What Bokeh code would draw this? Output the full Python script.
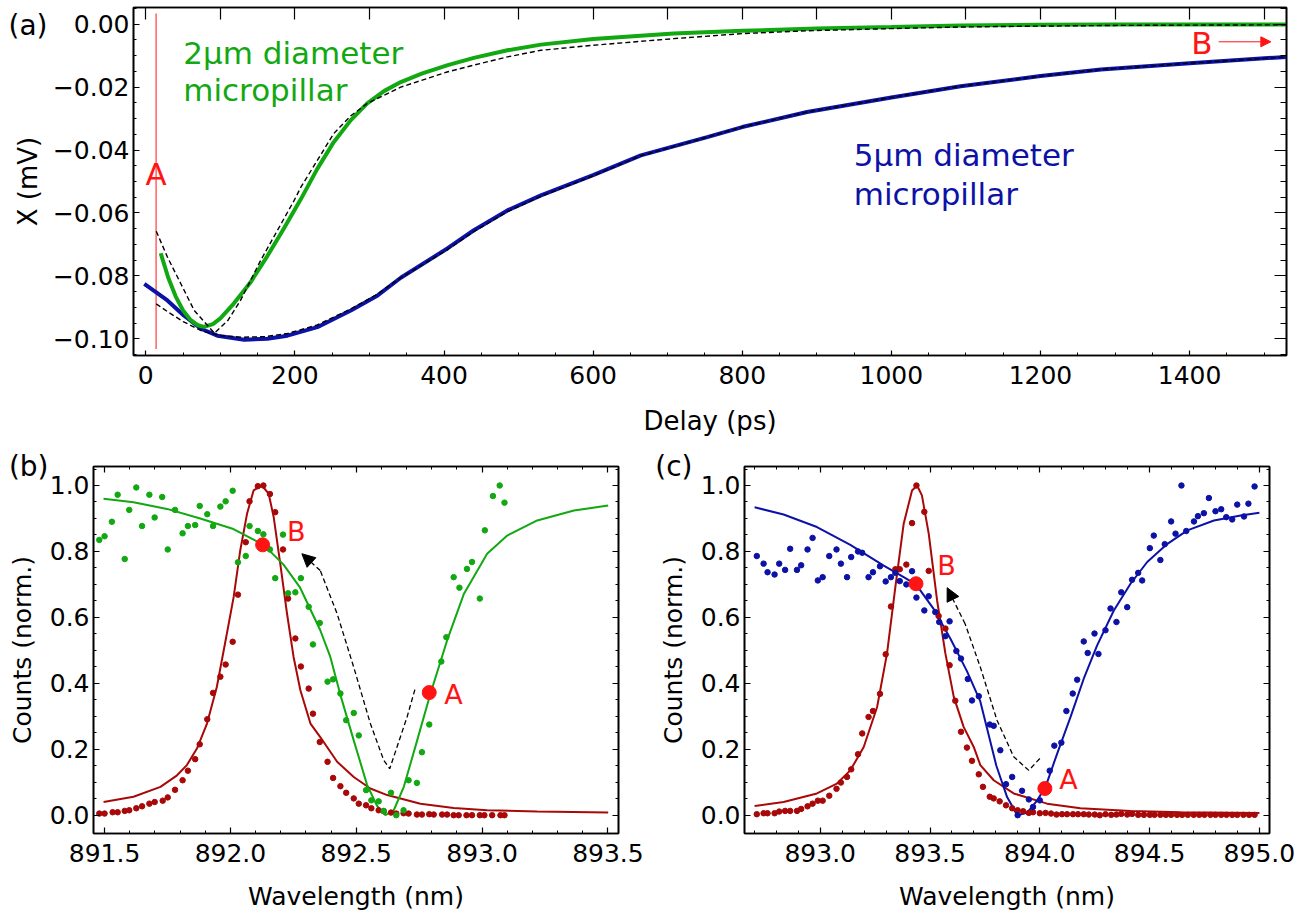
from bokeh.plotting import figure
from bokeh.models import (Range1d, LinearAxis, FixedTicker, CustomJSTickFormatter,
                          Label, Arrow, NormalHead)
from bokeh.layouts import column, row
from bokeh.embed import file_html
from bokeh.resources import INLINE

FONT = "DejaVu Sans"
GREEN = "#12a812"
BLUE = "#0c12a6"
DARKRED = "#a80808"
RED = "#ff1414"

# ---------------- Panel (a): pump-probe traces ----------------
DELAY_TICKS = [0, 200, 400, 600, 800, 1000, 1200, 1400]
DELAY_MINOR = list(range(0, 1551, 50))
DELAY_TOP = list(range(0, 1551, 100))
X_TICKS = [-0.10, -0.08, -0.06, -0.04, -0.02, 0.0]
X_MINOR = [round(-0.105 + 0.005 * i, 3) for i in range(23)]

G_T = [20, 30, 40, 50, 60, 70, 78, 90, 100, 118, 140, 163, 185, 208, 230, 252, 275, 297,
       320, 342, 370, 405, 440, 485, 530, 600, 708, 800, 900, 1000, 1093, 1200, 1300, 1400, 1530]
G_X = [-0.0728, -0.0805, -0.0865, -0.0910, -0.0940, -0.0957, -0.0962, -0.0953, -0.0935,
       -0.0888, -0.0822, -0.0737, -0.0650, -0.0556, -0.0460, -0.0375, -0.0305, -0.0252,
       -0.0212, -0.0184, -0.0157, -0.0130, -0.0107, -0.0083, -0.0065, -0.0047, -0.0030,
       -0.0021, -0.0014, -0.0009, -0.0004, -0.0002, -0.0001, -0.0001, -0.0001]
G_FIT_T = [14, 29, 47, 65, 92, 110, 127, 154, 199, 208, 252, 275, 297, 342, 404, 440, 485,
           530, 600, 708, 800, 887, 1000, 1093, 1200, 1300, 1400, 1530]
G_FIT_X = [-0.0658, -0.0740, -0.0825, -0.0910, -0.0982, -0.0942, -0.0878, -0.0751, -0.0560,
           -0.0518, -0.0348, -0.0291, -0.0252, -0.0200, -0.0152, -0.0130, -0.0104, -0.0083,
           -0.0067, -0.0046, -0.0030, -0.0021, -0.0014, -0.0009, -0.0006, -0.0004, -0.0003,
           -0.0002]
B_T = [-2, 29, 51, 74, 96, 132, 163, 190, 230, 275, 311, 342, 405, 440, 485, 530, 600, 664,
       753, 800, 887, 1000, 1093, 1200, 1281, 1400, 1530]
B_X = [-0.0825, -0.0878, -0.0926, -0.0968, -0.0990, -0.1003, -0.1000, -0.0990, -0.0963,
       -0.0910, -0.0862, -0.0806, -0.0712, -0.0655, -0.0592, -0.0544, -0.0480, -0.0417,
       -0.0359, -0.0327, -0.0279, -0.0233, -0.0197, -0.0165, -0.0144, -0.0124, -0.0104]
B_FIT_T = [14, 30, 50, 75, 100, 130, 160, 190, 230, 275, 310, 342, 405, 440, 485, 530, 600,
           664, 753, 800, 887, 1000, 1093, 1200, 1281, 1400, 1530]
B_FIT_X = [-0.0889, -0.0915, -0.0945, -0.0975, -0.0990, -0.0995, -0.0993, -0.0983, -0.0956,
           -0.0905, -0.0859, -0.0806, -0.0716, -0.0659, -0.0596, -0.0547, -0.0482, -0.0418,
           -0.0359, -0.0327, -0.0279, -0.0233, -0.0197, -0.0165, -0.0144, -0.0124, -0.0104]
A_DELAY = 13.8

# ---------------- Panel (b): 2 um micropillar spectra ----------------
WL_TICKS_B = [891.5, 892.0, 892.5, 893.0, 893.5]
WL_MINOR_B = [round(891.5 + 0.1 * i, 1) for i in range(21)]
CT_TICKS = [0.0, 0.2, 0.4, 0.6, 0.8, 1.0]
CT_MINOR = [round(0.05 * i, 2) for i in range(22)]

BR_WL = [891.479, 891.500, 891.532, 891.552, 891.580, 891.598, 891.626, 891.649, 891.678,
         891.699, 891.731, 891.751, 891.780, 891.810, 891.831, 891.860, 891.878, 891.908,
         891.931, 891.960, 891.981, 892.009, 892.030, 892.061, 892.076, 892.109, 892.131,
         892.157, 892.178, 892.209, 892.229, 892.258, 892.280, 892.311, 892.328, 892.355,
         892.386, 892.408, 892.437, 892.460, 892.490, 892.510, 892.539, 892.560, 892.589,
         892.609, 892.638, 892.659, 892.688, 892.708, 892.741, 892.761, 892.790, 892.808,
         892.841, 892.861, 892.887, 892.907, 892.938, 892.960, 892.991, 893.009, 893.040,
         893.073, 893.089]
BR_CT = [0.005, 0.005, 0.009, 0.009, 0.013, 0.015, 0.021, 0.027, 0.035, 0.040, 0.044, 0.054,
         0.077, 0.106, 0.135, 0.170, 0.215, 0.291, 0.371, 0.420, 0.457, 0.526, 0.669, 0.828,
         0.952, 0.998, 1.000, 0.974, 0.919, 0.806, 0.657, 0.536, 0.451, 0.384, 0.308, 0.222,
         0.162, 0.113, 0.088, 0.068, 0.051, 0.035, 0.030, 0.021, 0.015, 0.012, 0.008, 0.005,
         0.006, 0.005, 0.002, 0.002, 0.003, 0.002, 0.002, 0.002, 0.000, 0.000, 0.000, 0.000,
         0.000, 0.000, 0.000, 0.000, 0.000]
BG_WL = [891.479, 891.500, 891.529, 891.552, 891.580, 891.598, 891.626, 891.649, 891.678,
         891.699, 891.729, 891.751, 891.780, 891.810, 891.831, 891.860, 891.878, 891.908,
         891.931, 891.960, 891.981, 892.009, 892.030, 892.061, 892.076, 892.109, 892.131,
         892.157, 892.178, 892.209, 892.229, 892.258, 892.280, 892.311, 892.328, 892.355,
         892.386, 892.408, 892.437, 892.460, 892.490, 892.510, 892.539, 892.560, 892.589,
         892.609, 892.638, 892.659, 892.688, 892.708, 892.741, 892.761, 892.790, 892.838,
         892.858, 892.887, 892.910, 892.940, 892.960, 892.991, 893.011, 893.043, 893.070,
         893.089]
BG_CT = [0.835, 0.846, 0.890, 0.972, 0.777, 0.926, 0.994, 0.877, 0.972, 0.903, 0.965, 0.806,
         0.926, 0.855, 0.877, 0.880, 0.938, 0.913, 0.877, 0.936, 0.952, 0.984, 0.767, 0.786,
         0.877, 0.862, 0.852, 0.806, 0.719, 0.851, 0.673, 0.676, 0.719, 0.632, 0.518, 0.583,
         0.405, 0.412, 0.369, 0.288, 0.310, 0.242, 0.076, 0.045, 0.042, 0.013, 0.068, 0.000,
         0.015, 0.106, 0.098, 0.191, 0.275, 0.466, 0.540, 0.722, 0.690, 0.747, 0.768, 0.657,
         0.864, 0.968, 1.000, 0.948]
BR_FIT_WL = [891.496, 891.615, 891.722, 891.788, 891.827, 891.867, 891.907, 891.946, 891.986,
             892.013, 892.039, 892.066, 892.092, 892.125, 892.152, 892.172, 892.198, 892.225,
             892.251, 892.278, 892.318, 892.357, 892.424, 892.490, 892.556, 892.623, 892.755,
             892.887, 893.020, 893.219, 893.501]
BR_FIT_CT = [0.040, 0.056, 0.086, 0.121, 0.152, 0.202, 0.278, 0.389, 0.551, 0.662, 0.803,
             0.914, 0.985, 1.000, 0.975, 0.904, 0.763, 0.611, 0.480, 0.379, 0.278, 0.237,
             0.162, 0.116, 0.081, 0.061, 0.035, 0.022, 0.015, 0.011, 0.008]
BG_FIT_WL = [891.496, 891.615, 891.748, 891.880, 892.012, 892.132, 892.211, 892.277, 892.357,
             892.397, 892.437, 892.490, 892.543, 892.583, 892.616, 892.649, 892.689, 892.742,
             892.795, 892.861, 892.928, 893.020, 893.100, 893.219, 893.365, 893.501]
BG_FIT_CT = [0.960, 0.949, 0.929, 0.900, 0.868, 0.820, 0.760, 0.690, 0.561, 0.480, 0.365,
             0.227, 0.092, 0.028, 0.000, 0.015, 0.086, 0.227, 0.369, 0.530, 0.672, 0.793,
             0.848, 0.894, 0.924, 0.939]
B_PATH_WL = [892.733, 892.702, 892.662, 892.633, 892.609, 892.556, 892.490, 892.424, 892.357]
B_PATH_CT = [0.381, 0.298, 0.207, 0.141, 0.167, 0.278, 0.449, 0.611, 0.742]
B_TIP = (892.284, 0.793)
B_PT_B = (892.128, 0.820)
B_PT_A = (892.790, 0.372)

# ---------------- Panel (c): 5 um micropillar spectra ----------------
WL_TICKS_C = [893.0, 893.5, 894.0, 894.5, 895.0]
WL_MINOR_C = [round(892.7 + 0.1 * i, 1) for i in range(24)]

CR_WL = [892.711, 892.742, 892.760, 892.792, 892.813, 892.840, 892.863, 892.894, 892.913,
         892.942, 892.965, 892.989, 893.011, 893.041, 893.074, 893.094, 893.122, 893.141,
         893.172, 893.191, 893.220, 893.240, 893.272, 893.298, 893.322, 893.342, 893.362,
         893.392, 893.418, 893.438, 893.474, 893.494, 893.539, 893.570, 893.589, 893.615,
         893.641, 893.668, 893.691, 893.722,
         893.741, 893.772, 893.790, 893.817, 893.846, 893.874, 893.899, 893.924, 893.950,
         893.969, 894.000, 894.026, 894.051, 894.076, 894.101, 894.124, 894.151, 894.174,
         894.200, 894.223, 894.250, 894.273, 894.299, 894.325, 894.349, 894.371, 894.398,
         894.420, 894.448, 894.474, 894.501, 894.522, 894.549, 894.574, 894.598, 894.625,
         894.648, 894.674, 894.701, 894.726, 894.750, 894.777, 894.800, 894.826, 894.850,
         894.876, 894.899, 894.927, 894.953, 894.978]
CR_CT = [0.003, 0.006, 0.006, 0.006, 0.011, 0.013, 0.013, 0.013, 0.019, 0.027, 0.035, 0.044,
         0.044, 0.059, 0.080, 0.099, 0.116, 0.139, 0.185, 0.248, 0.298, 0.316, 0.368, 0.488,
         0.633, 0.746, 0.746, 0.760, 0.886, 1.000, 0.920, 0.741, 0.604, 0.566, 0.455, 0.347,
         0.253, 0.205, 0.165, 0.124,
         0.086, 0.056, 0.051, 0.042, 0.030, 0.021, 0.015, 0.012, 0.007, 0.009, 0.006, 0.007,
         0.005, 0.002, 0.003, 0.003, 0.003, 0.003, 0.003, 0.002, 0.002, 0.000, 0.003, 0.001,
         0.002, 0.004, 0.002, 0.004, 0.001, 0.001, 0.001, 0.001, 0.001, 0.001, 0.001, 0.001,
         0.001, 0.001, 0.001, 0.001, 0.001, 0.001, 0.001, 0.001, 0.001, 0.001, 0.001, 0.001,
         0.001, 0.001]
CB_WL = [892.711, 892.742, 892.760, 892.792, 892.813, 892.840, 892.863, 892.894, 892.913,
         892.942, 892.965, 892.989, 893.011, 893.041, 893.074, 893.094, 893.122, 893.141,
         893.172, 893.191, 893.220, 893.240, 893.272, 893.298, 893.322, 893.342, 893.362,
         893.392, 893.418, 893.438, 893.474, 893.494, 893.524, 893.542, 893.570, 893.589,
         893.620, 893.641, 893.672, 893.691, 893.722,
         893.772, 893.790, 893.820, 893.846, 893.874, 893.899, 893.919, 893.950, 893.969,
         894.000, 894.045, 894.066, 894.098, 894.121, 894.150, 894.170, 894.200, 894.218,
         894.249, 894.267, 894.299, 894.322, 894.349, 894.371, 894.398, 894.420, 894.448,
         894.466, 894.501, 894.519, 894.549, 894.569, 894.598, 894.618, 894.645, 894.667,
         894.702, 894.720, 894.747, 894.770, 894.800, 894.826, 894.849, 894.876, 894.899,
         894.930, 894.950, 894.978]
CB_CT = [0.786, 0.763, 0.737, 0.730, 0.763, 0.744, 0.808, 0.744, 0.758, 0.806, 0.841, 0.712,
         0.722, 0.786, 0.806, 0.763, 0.722, 0.783, 0.800, 0.796, 0.722, 0.737, 0.755, 0.709,
         0.722, 0.735, 0.710, 0.700, 0.740, 0.660, 0.621, 0.664, 0.616, 0.586, 0.543, 0.588,
         0.498, 0.475, 0.413, 0.348, 0.361,
         0.275, 0.271, 0.197, 0.094, 0.116, 0.000, 0.074, 0.048, 0.025, 0.045, 0.135, 0.211,
         0.220, 0.316, 0.369, 0.411, 0.527, 0.492, 0.551, 0.489, 0.561, 0.627, 0.586, 0.676,
         0.631, 0.714, 0.735, 0.712, 0.810, 0.848, 0.774, 0.822, 0.891, 0.854, 1.000, 0.862,
         0.891, 0.907, 0.916, 0.962, 0.922, 0.928, 0.904, 0.897, 0.942, 0.906, 0.945, 0.997]
CB_FIT_WL = [892.701, 892.833, 892.985, 893.137, 893.289, 893.380, 893.436, 893.517, 893.593,
             893.668, 893.729, 893.760, 893.802, 893.851, 893.897, 893.942, 893.988, 894.026,
             894.079, 894.140, 894.200, 894.261, 894.337, 894.413, 894.489, 894.581, 894.672,
             894.793, 894.915, 895.000]
CB_FIT_CT = [0.934, 0.912, 0.874, 0.820, 0.757, 0.722, 0.700, 0.625, 0.535, 0.437, 0.345,
             0.262, 0.150, 0.055, 0.000, 0.007, 0.045, 0.086, 0.187, 0.298, 0.414, 0.515,
             0.621, 0.702, 0.768, 0.823, 0.864, 0.894, 0.909, 0.917]
CR_FIT_WL = [892.701, 892.833, 892.985, 893.076, 893.137, 893.198, 893.259, 893.304, 893.342,
             893.380, 893.418, 893.441, 893.463, 893.494, 893.532, 893.570, 893.608, 893.653,
             893.699, 893.729, 893.790, 893.881, 894.033, 894.185, 894.413, 894.641, 895.000]
CR_FIT_CT = [0.028, 0.040, 0.066, 0.096, 0.136, 0.207, 0.328, 0.490, 0.692, 0.884, 0.985,
             1.000, 0.970, 0.854, 0.652, 0.490, 0.359, 0.268, 0.207, 0.152, 0.106, 0.066,
             0.035, 0.021, 0.013, 0.009, 0.007]
C_PATH_WL = [894.000, 893.950, 893.881, 893.805, 893.729, 893.660]
C_PATH_CT = [0.172, 0.136, 0.177, 0.288, 0.449, 0.580]
C_TIP = (893.578, 0.690)
C_PT_B = (893.436, 0.702)
C_PT_A = (894.023, 0.081)


def style_axis(ax, tick_px, label_px, major, minor, std, lstd):
    ax.major_label_text_font = FONT
    ax.major_label_text_font_size = tick_px
    ax.major_label_text_color = "black"
    ax.axis_label_text_font = FONT
    ax.axis_label_text_font_size = label_px
    ax.axis_label_text_font_style = "normal"
    ax.axis_label_text_color = "black"
    ax.major_tick_in = major
    ax.major_tick_out = 0
    ax.minor_tick_in = minor
    ax.minor_tick_out = 0
    ax.major_tick_line_color = "black"
    ax.minor_tick_line_color = "black"
    ax.major_tick_line_width = 1.2
    ax.minor_tick_line_width = 1
    ax.axis_line_color = "black"
    ax.axis_line_width = 1.6
    ax.major_label_standoff = std
    ax.axis_label_standoff = lstd


def blank_axis(ticker, major, minor):
    return LinearAxis(ticker=ticker, formatter=CustomJSTickFormatter(code="return '';"),
                      major_label_text_font_size="1px", major_label_standoff=0,
                      major_tick_in=major, major_tick_out=0, minor_tick_in=minor,
                      minor_tick_out=0, major_tick_line_color="black",
                      minor_tick_line_color="black", major_tick_line_width=1.2,
                      axis_line_color="black", axis_line_width=1.6)


def panel_tag(p, text, yval, standoff):
    # an extra, line-less left axis whose single tick label is the panel tag
    ax = LinearAxis(ticker=FixedTicker(ticks=[yval], minor_ticks=[]),
                    formatter=CustomJSTickFormatter(code="return '%s';" % text),
                    major_tick_in=0, major_tick_out=0, minor_tick_in=0, minor_tick_out=0,
                    major_tick_line_color=None, minor_tick_line_color=None,
                    axis_line_color=None, major_label_standoff=standoff,
                    major_label_text_font=FONT, major_label_text_font_size="28px",
                    major_label_text_color="black")
    p.add_layout(ax, "left")


def base_fig(width, height, xr, yr, borders):
    p = figure(width=width, height=height, x_range=Range1d(*xr), y_range=Range1d(*yr),
               output_backend="svg", toolbar_location=None, tools="",
               min_border_left=borders[0], min_border_right=borders[1],
               min_border_top=borders[2], min_border_bottom=borders[3])
    p.grid.visible = False
    p.background_fill_color = "white"
    p.border_fill_color = "white"
    p.outline_line_color = "black"
    p.outline_line_width = 1.6
    return p


def label(p, x, y, text, size, color, align="left", baseline="middle"):
    p.add_layout(Label(x=x, y=y, text=text, text_font=FONT, text_font_size=size,
                       text_color=color, text_align=align, text_baseline=baseline))


# ---------------- Panel (a) ----------------
pa = base_fig(1308, 440, (-16.5, 1530), (-0.1053, 0.0053), (133, 22, 7, 85))
pa.xaxis.ticker = FixedTicker(ticks=DELAY_TICKS, minor_ticks=DELAY_MINOR)
pa.yaxis.ticker = FixedTicker(ticks=X_TICKS, minor_ticks=X_MINOR)
pa.xaxis.formatter = CustomJSTickFormatter(code="return tick.toFixed(0);")
pa.yaxis.formatter = CustomJSTickFormatter(
    code="return (tick < -1e-9 ? '\u2212' : '') + Math.abs(tick).toFixed(2);")
pa.xaxis.axis_label = "Delay (ps)"
pa.yaxis.axis_label = "X (mV)"
style_axis(pa.xaxis[0], "25px", "26px", 5, 3, 10, 19)
style_axis(pa.yaxis[0], "25px", "26px", 6, 3, 4, 7)
pa.add_layout(blank_axis(FixedTicker(ticks=DELAY_TOP, minor_ticks=[]), 12, 0), "above")
pa.add_layout(blank_axis(FixedTicker(ticks=X_TICKS, minor_ticks=X_MINOR), 12, 6), "right")
panel_tag(pa, "(a)", -0.0003, -38)

pa.line([A_DELAY, A_DELAY], [0.0034, -0.1032], line_color="#ff3a3a", line_width=1.2)
pa.line(B_T, B_X, line_color=BLUE, line_width=4)
pa.line(G_T, G_X, line_color=GREEN, line_width=4)
pa.line(B_FIT_T, B_FIT_X, line_color="black", line_width=1.4, line_dash="5 3")
pa.line(G_FIT_T, G_FIT_X, line_color="black", line_width=1.4, line_dash="5 3")
label(pa, A_DELAY, -0.0476, "A", "31px", RED, align="center")
label(pa, 1416.6, -0.0060, "B", "31px", RED, align="center")
pa.add_layout(Arrow(end=NormalHead(size=10, fill_color=RED, line_color=RED),
                    x_start=1439, y_start=-0.0056, x_end=1509, y_end=-0.0056,
                    line_color=RED, line_width=1))
label(pa, 50.2, -0.0093, "2µm diameter", "31px", GREEN, baseline="alphabetic")
label(pa, 50.2, -0.0210, "micropillar", "31px", GREEN, baseline="alphabetic")
label(pa, 949.6, -0.0417, "5µm diameter", "31px", BLUE, baseline="alphabetic")
label(pa, 949.6, -0.0539, "micropillar", "31px", BLUE, baseline="alphabetic")


# ---------------- Panels (b) and (c) ----------------
def spectrum_fig(width, xr, borders, wl_ticks, wl_minor, tag, tag_std):
    p = base_fig(width, 479, xr, (-0.0555, 1.0576), borders)
    p.xaxis.ticker = FixedTicker(ticks=wl_ticks, minor_ticks=wl_minor)
    p.yaxis.ticker = FixedTicker(ticks=CT_TICKS, minor_ticks=CT_MINOR)
    p.xaxis.formatter = CustomJSTickFormatter(code="return tick.toFixed(1);")
    p.yaxis.formatter = CustomJSTickFormatter(code="return tick.toFixed(1);")
    p.xaxis.axis_label = "Wavelength (nm)"
    p.yaxis.axis_label = "Counts (norm.)"
    style_axis(p.xaxis[0], "25px", "25px", 6, 3, 10, 17)
    style_axis(p.yaxis[0], "25px", "25px", 6, 3, 4, 10)
    p.add_layout(blank_axis(FixedTicker(ticks=wl_ticks, minor_ticks=wl_minor), 6, 3), "above")
    p.add_layout(blank_axis(FixedTicker(ticks=CT_TICKS, minor_ticks=CT_MINOR), 6, 3), "right")
    panel_tag(p, tag, 1.057, tag_std)
    return p


pb = spectrum_fig(650, (891.456, 893.542), (93, 32, 26, 86), WL_TICKS_B, WL_MINOR_B, "(b)", -44)
pb.line(BR_FIT_WL, BR_FIT_CT, line_color=DARKRED, line_width=2)
pb.line(BG_FIT_WL, BG_FIT_CT, line_color=GREEN, line_width=2)
pb.scatter(BR_WL, BR_CT, size=5.5, color=DARKRED)
pb.scatter(BG_WL, BG_CT, size=5.5, color=GREEN)
pb.line(B_PATH_WL, B_PATH_CT, line_color="black", line_width=1.3, line_dash="5 3")
pb.add_layout(Arrow(end=NormalHead(size=13, fill_color="black", line_color="black"),
                    x_start=B_PATH_WL[-1], y_start=B_PATH_CT[-1], x_end=B_TIP[0], y_end=B_TIP[1],
                    line_color="black", line_width=1.3, line_dash="5 3"))
pb.scatter([B_PT_B[0], B_PT_A[0]], [B_PT_B[1], B_PT_A[1]], size=14, color=RED)
label(pb, 892.225, 0.861, "B", "27px", RED)
label(pb, 892.85, 0.367, "A", "27px", RED)

pc = spectrum_fig(658, (892.655, 895.046), (94, 39, 26, 86), WL_TICKS_C, WL_MINOR_C, "(c)", -37)
pc.line(CR_FIT_WL, CR_FIT_CT, line_color=DARKRED, line_width=2)
pc.line(CB_FIT_WL, CB_FIT_CT, line_color=BLUE, line_width=2)
pc.scatter(CR_WL, CR_CT, size=5.5, color=DARKRED)
pc.scatter(CB_WL, CB_CT, size=5.5, color=BLUE)
pc.line(C_PATH_WL, C_PATH_CT, line_color="black", line_width=1.3, line_dash="5 3")
pc.add_layout(Arrow(end=NormalHead(size=13, fill_color="black", line_color="black"),
                    x_start=C_PATH_WL[-1], y_start=C_PATH_CT[-1], x_end=C_TIP[0], y_end=C_TIP[1],
                    line_color="black", line_width=1.3, line_dash="5 3"))
pc.scatter([C_PT_B[0], C_PT_A[0]], [C_PT_B[1], C_PT_A[1]], size=14, color=RED)
label(pc, 893.533, 0.758, "B", "27px", RED)
label(pc, 894.088, 0.109, "A", "27px", RED)

layout = column(pa, row(pb, pc))
with open("out.html", "w", encoding="utf-8") as f:
    f.write(file_html(layout, INLINE))
